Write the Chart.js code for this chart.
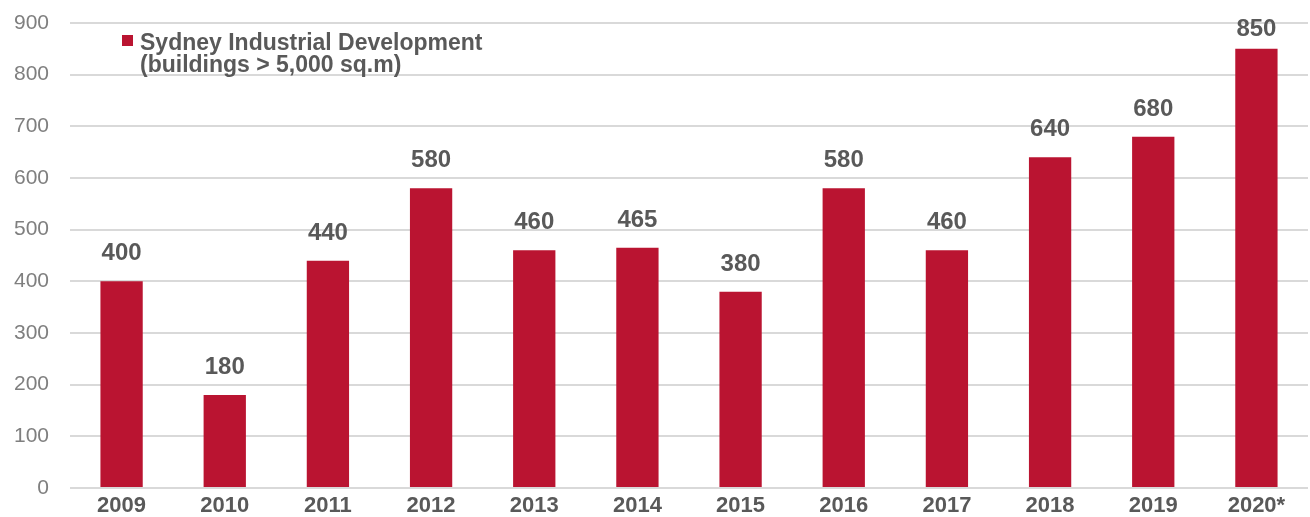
<!DOCTYPE html>
<html><head><meta charset="utf-8">
<script src="https://cdn.jsdelivr.net/npm/chart.js@4"></script>
<style>html,body{margin:0;padding:0;background:#fff}#w{width:1310px;height:517px}</style>
</head><body><div id="w"><canvas id="c"></canvas></div>
<script>
const categories = ["2009","2010","2011","2012","2013","2014","2015","2016","2017","2018","2019","2020*"];
const values = [400,180,440,580,460,465,380,580,460,640,680,850];
const yTicks = [0,100,200,300,400,500,600,700,800,900];
const legendLines = ["Sydney Industrial Development","(buildings > 5,000 sq.m)"];
const FONT = "'Liberation Sans', Arial, sans-serif";

const labelsPlugin = {
  id: 'labels',
  afterDatasetsDraw(chart) {
    const ctx = chart.ctx;
    const meta = chart.getDatasetMeta(0);
    ctx.save();
    ctx.font = "bold 24px " + FONT;
    ctx.fillStyle = "#595959";
    ctx.textAlign = "center";
    ctx.textBaseline = "alphabetic";
    meta.data.forEach((el, i) => {
      const y = Math.max(el.y - 21, chart.chartArea.top + 13);
      ctx.fillText(String(values[i]), el.x, y);
    });
    // legend
    const ca = chart.chartArea;
    const lx = ca.left + 52, ly = ca.top + 12;
    ctx.fillStyle = "#BA1431";
    ctx.fillRect(lx, ly, 11, 11);
    ctx.fillStyle = "#595959";
    ctx.font = "bold 23px " + FONT;
    ctx.textAlign = "left";
    ctx.fillText(legendLines[0], lx + 18, ly + 15);
    ctx.fillText(legendLines[1], lx + 18, ly + 37);
    ctx.restore();
  }
};

const chart = new Chart(document.getElementById('c'), {
  type: 'bar',
  data: { labels: categories, datasets: [{ data: values, backgroundColor: "#BA1431", categoryPercentage: 1, barPercentage: 0.41 }] },
  options: {
    responsive: true, maintainAspectRatio: false, animation: false,
    layout: { padding: { top: 23, right: 2, left: 0, bottom: 0 } },
    plugins: { legend: { display: false }, tooltip: { enabled: false } },
    scales: {
      x: {
        grid: { display: false, drawTicks: false },
        border: { display: false },
        ticks: { color: "#595959", font: { family: FONT, size: 22, weight: 'bold' }, padding: 5 },
        afterFit(s) { s.height = 29; s.paddingLeft = 0; s.paddingRight = 0; }
      },
      y: {
        min: 0, max: 900,
        afterBuildTicks(s) { s.ticks = yTicks.map(v => ({ value: v })); },
        grid: { color: "#d9d9d9", lineWidth: 2, drawTicks: false },
        border: { display: false },
        ticks: { color: "#7f7f7f", font: { family: FONT, size: 21 }, padding: 21 },
        afterFit(s) { s.width = 70; s.paddingTop = 0; s.paddingBottom = 0; }
      }
    }
  },
  plugins: [labelsPlugin]
});
</script></body></html>
